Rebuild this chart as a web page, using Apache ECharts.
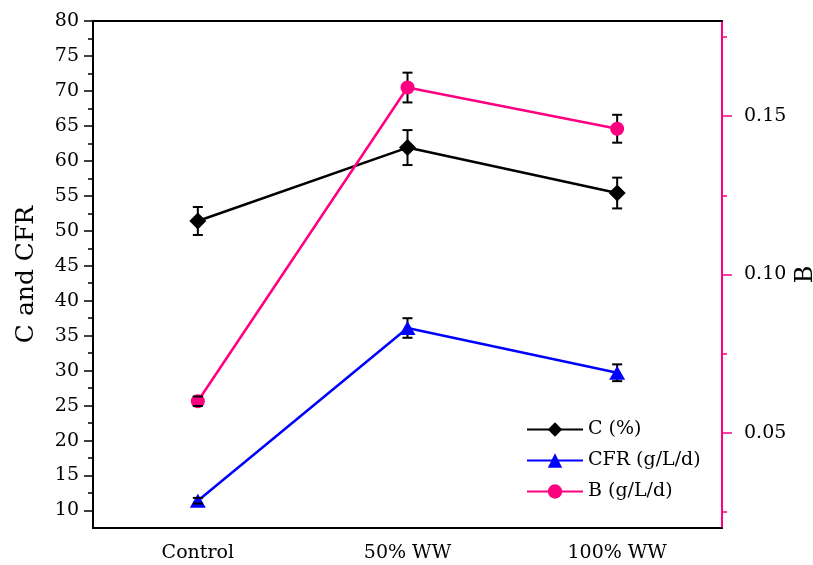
<!DOCTYPE html>
<html>
<head>
<meta charset="utf-8">
<script src="https://cdn.jsdelivr.net/npm/echarts@6.0.0/dist/echarts.min.js"></script>
<style>
  html, body { margin: 0; padding: 0; background: #fff; }
  #chart { width: 813px; height: 565px; }
</style>
</head>
<body>
<div id="chart"></div>
<script>
const categories = ['Control', '50% WW', '100% WW'];

// C (%) and CFR (g/L/d) on the left axis
const cValues = [51.4, 61.9, 55.4];
const cErrors = [2.0, 2.5, 2.2];
const cfrValues = [11.4, 36.1, 29.7];
const cfrErrors = [0.4, 1.4, 1.2];

// B (g/L/d) on the right axis
const bValues = [0.060, 0.159, 0.146];
const bErrors = [0.0015, 0.0047, 0.0044];

// tick positions
const leftTicks = [10, 15, 20, 25, 30, 35, 40, 45, 50, 55, 60, 65, 70, 75, 80];
const leftMinorTicks = [12.5, 17.5, 22.5, 27.5, 32.5, 37.5, 42.5, 47.5, 52.5, 57.5, 62.5, 67.5, 72.5, 77.5];
const rightTicks = [0.05, 0.10, 0.15];
const rightMinorTicks = [0.025, 0.075, 0.125, 0.175];

const FONT = 'DejaVu Serif';
const PINK = '#ff0080';
const BLUE = '#0000ff';

function errorData(values, errors) {
  return values.map((v, i) => [i, v - errors[i], v + errors[i]]);
}

// vertical part of the error bar, drawn under the markers
function stemItem(params, api) {
  const lo = api.coord([api.value(0), api.value(1)]);
  const hi = api.coord([api.value(0), api.value(2)]);
  return {
    type: 'line',
    shape: { x1: lo[0], y1: lo[1], x2: hi[0], y2: hi[1] },
    style: { stroke: '#000', lineWidth: 2 }
  };
}

// caps, drawn on top of the markers
function capItem(params, api) {
  const lo = api.coord([api.value(0), api.value(1)]);
  const hi = api.coord([api.value(0), api.value(2)]);
  const w = 5;
  return {
    type: 'group',
    children: [
      { type: 'line', shape: { x1: lo[0] - w, y1: lo[1], x2: lo[0] + w, y2: lo[1] }, style: { stroke: '#000', lineWidth: 2 } },
      { type: 'line', shape: { x1: hi[0] - w, y1: hi[1], x2: hi[0] + w, y2: hi[1] }, style: { stroke: '#000', lineWidth: 2 } }
    ]
  };
}

function errorSeries(values, errors, yIndex) {
  return [
    {
      type: 'custom', renderItem: stemItem, data: errorData(values, errors),
      xAxisIndex: 0, yAxisIndex: yIndex, encode: { x: 0, y: [1, 2] }, z: 1, silent: true
    },
    {
      type: 'custom', renderItem: capItem, data: errorData(values, errors),
      xAxisIndex: 0, yAxisIndex: yIndex, encode: { x: 0, y: [1, 2] }, z: 3, silent: true
    }
  ];
}

const chart = echarts.init(document.getElementById('chart'));

const option = {
  animation: false,
  backgroundColor: '#fff',
  textStyle: { fontFamily: FONT },
  grid: { left: 93, right: 91, top: 21, bottom: 37, outerBoundsMode: 'none', containLabel: false },
  legend: {
    orient: 'vertical',
    left: 521,
    top: 415,
    itemWidth: 56,
    itemHeight: 18,
    itemGap: 12,
    textStyle: { fontFamily: FONT, fontSize: 19, color: '#000' },
    data: ['C (%)', 'CFR (g/L/d)', 'B (g/L/d)']
  },
  xAxis: [
    {
      type: 'category',
      data: categories,
      position: 'bottom',
      boundaryGap: true,
      axisLine: { lineStyle: { color: '#000', width: 2 } },
      axisTick: { alignWithLabel: true, length: 9, lineStyle: { color: '#000', width: 1.5 } },
      axisLabel: { fontFamily: FONT, fontSize: 19, color: '#000', margin: 16 },
      splitLine: { show: false }
    },
    {
      type: 'category',
      data: categories,
      position: 'bottom',
      boundaryGap: true,
      axisLine: { show: false },
      axisTick: { alignWithLabel: false, length: 5, lineStyle: { color: '#000', width: 1.5 } },
      axisLabel: { show: false },
      splitLine: { show: false }
    },
    {
      type: 'category',
      data: categories,
      position: 'top',
      boundaryGap: true,
      axisLine: { lineStyle: { color: '#000', width: 2 } },
      axisTick: { inside: true, alignWithLabel: true, length: 9, lineStyle: { color: '#000', width: 1.5 } },
      axisLabel: { show: false },
      splitLine: { show: false }
    }
  ],
  yAxis: [
    {
      type: 'value',
      position: 'left',
      min: 7.5,
      max: 80,
      name: 'C and CFR',
      nameLocation: 'middle',
      nameGap: 54,
      nameRotate: 90,
      nameMoveOverlap: false,
      nameTextStyle: { fontFamily: FONT, fontSize: 25, color: '#000' },
      axisLine: { show: true, lineStyle: { color: '#000', width: 2 } },
      axisTick: { show: true, customValues: leftTicks, length: 9, lineStyle: { color: '#000', width: 1.5 } },
      axisLabel: { customValues: leftTicks, fontFamily: FONT, fontSize: 19, color: '#000', margin: 14 },
      splitLine: { show: false }
    },
    {
      type: 'value',
      position: 'left',
      min: 7.5,
      max: 80,
      axisLine: { show: false },
      axisTick: { show: true, customValues: leftMinorTicks, length: 5, lineStyle: { color: '#000', width: 1.5 } },
      axisLabel: { show: false },
      splitLine: { show: false }
    },
    {
      type: 'value',
      position: 'right',
      min: 0.02,
      max: 0.18,
      name: 'B',
      nameLocation: 'middle',
      nameGap: 72,
      nameRotate: 90,
      nameMoveOverlap: false,
      nameTextStyle: { fontFamily: FONT, fontSize: 24, color: '#000' },
      axisLine: { show: true, lineStyle: { color: PINK, width: 2 } },
      axisTick: { show: true, customValues: rightTicks, length: 10, lineStyle: { color: PINK, width: 1.5 } },
      axisLabel: {
        customValues: rightTicks, fontFamily: FONT, fontSize: 19, color: '#000', margin: 22,
        formatter: v => v.toFixed(2)
      },
      splitLine: { show: false }
    },
    {
      type: 'value',
      position: 'right',
      min: 0.02,
      max: 0.18,
      axisLine: { show: false },
      axisTick: { show: true, customValues: rightMinorTicks, length: 5, lineStyle: { color: PINK, width: 1.5 } },
      axisLabel: { show: false },
      splitLine: { show: false }
    }
  ],
  series: [
    {
      name: 'C (%)',
      type: 'line',
      data: cValues,
      xAxisIndex: 0,
      yAxisIndex: 0,
      symbol: 'diamond',
      symbolSize: [17, 17],
      lineStyle: { color: '#000', width: 2.5 },
      itemStyle: { color: '#000' },
      z: 2
    },
    {
      name: 'CFR (g/L/d)',
      type: 'line',
      data: cfrValues,
      xAxisIndex: 0,
      yAxisIndex: 0,
      symbol: 'triangle',
      symbolSize: [16, 14],
      lineStyle: { color: BLUE, width: 2.5 },
      itemStyle: { color: BLUE },
      z: 2
    },
    {
      name: 'B (g/L/d)',
      type: 'line',
      data: bValues,
      xAxisIndex: 0,
      yAxisIndex: 2,
      symbol: 'circle',
      symbolSize: 14,
      lineStyle: { color: PINK, width: 2.5 },
      itemStyle: { color: PINK },
      z: 2
    },
    ...errorSeries(cValues, cErrors, 0),
    ...errorSeries(cfrValues, cfrErrors, 0),
    ...errorSeries(bValues, bErrors, 2)
  ]
};

chart.setOption(option);
</script>
</body>
</html>
